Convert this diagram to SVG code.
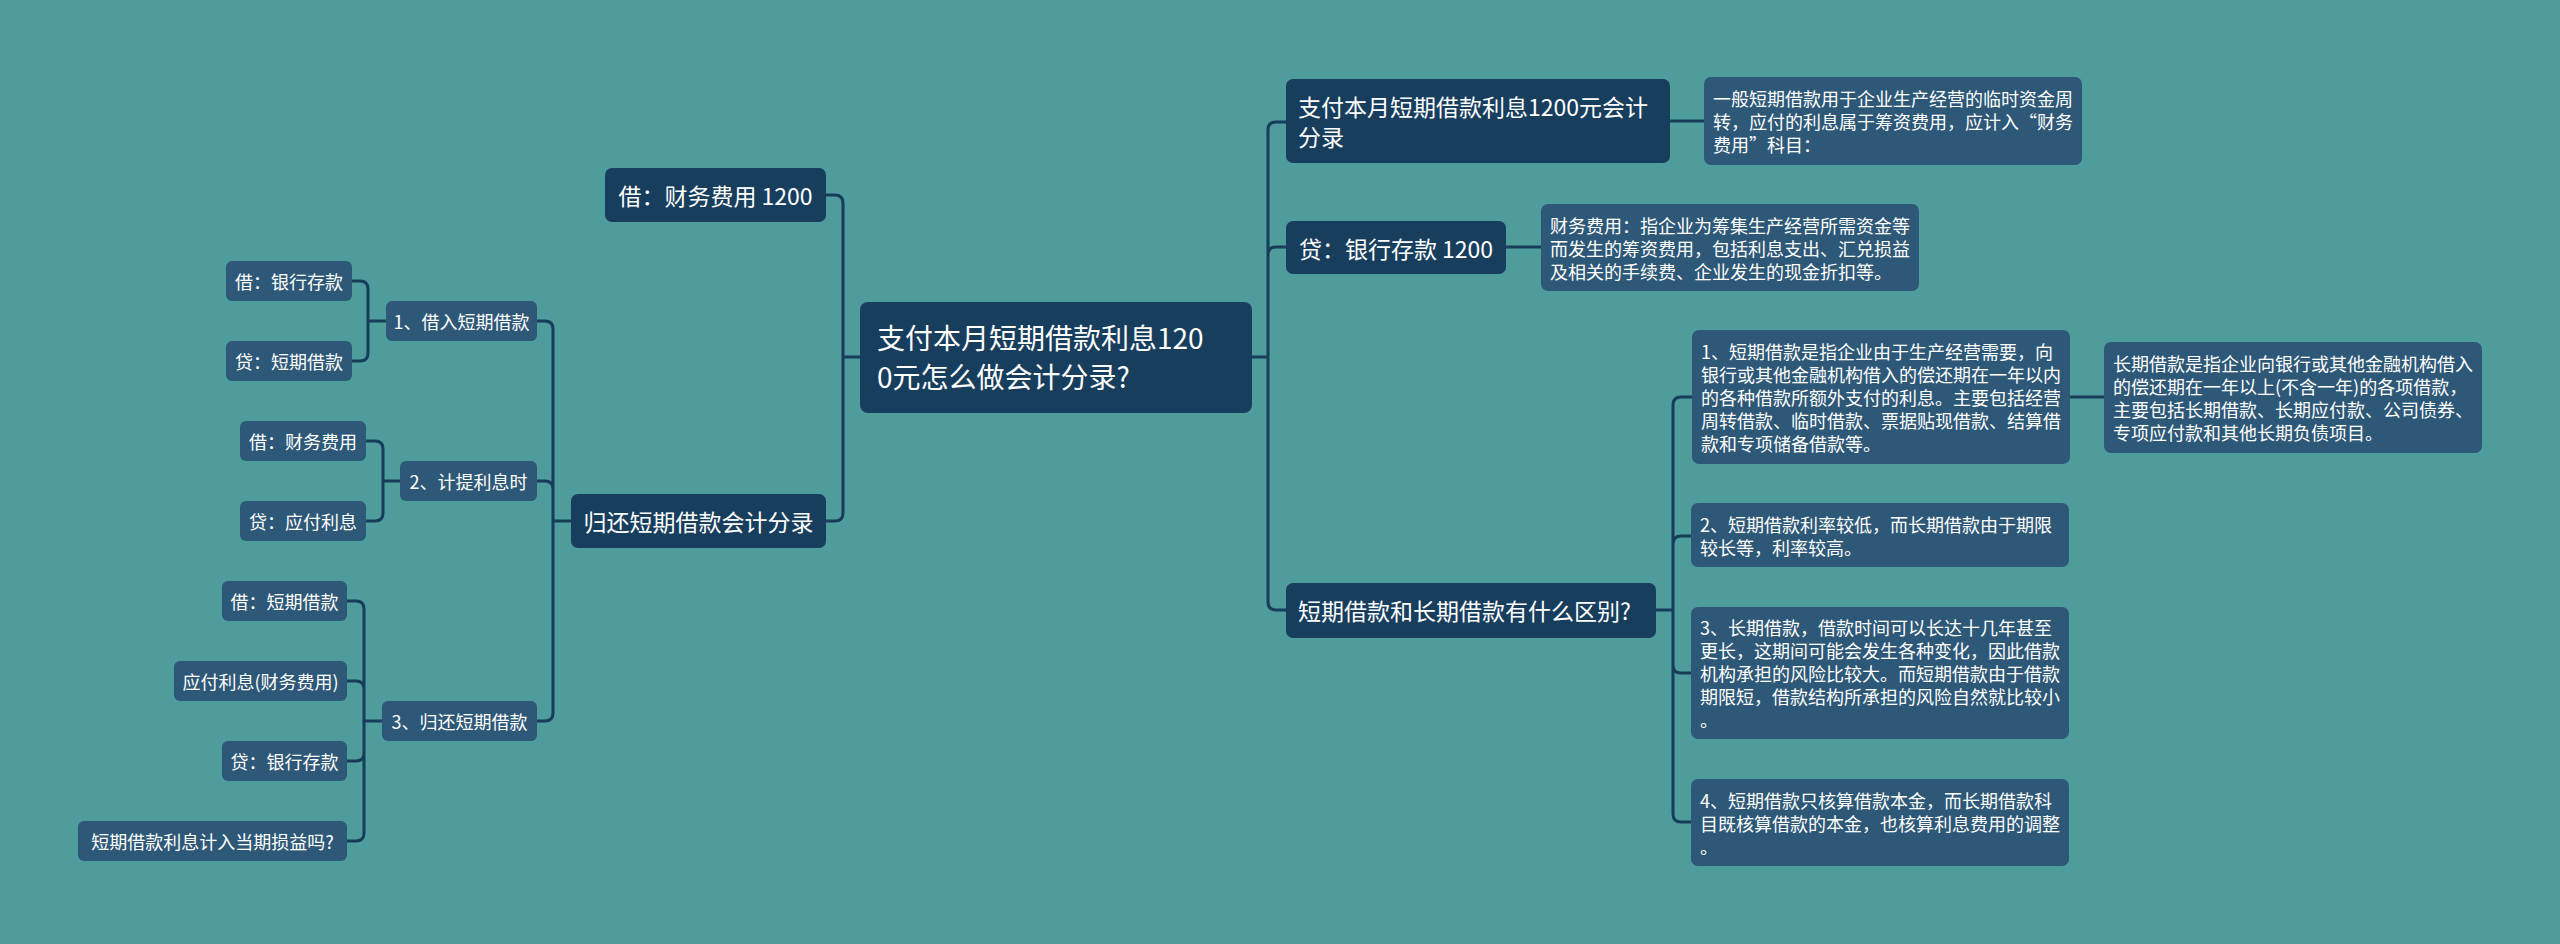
<svg xmlns="http://www.w3.org/2000/svg" width="2560" height="944" viewBox="0 0 2560 944">
<style>
.bg{fill:#4E9C9C}
.dk{fill:#183E5E}
.lf{fill:#2E5877}
.t{font-family:"Noto Sans CJK SC","Noto Sans",sans-serif;fill:#FFFFFF;dominant-baseline:central}
.t28{font-size:28px}
.t23{font-size:23px}
.t18{font-size:18px}
.mid{text-anchor:middle}
.ln{fill:none;stroke:#173D5A;stroke-width:3;stroke-linecap:round;stroke-linejoin:round}
</style>
<rect class="bg" x="0" y="0" width="2560" height="944"/>
<g id="connectors">
<path class="ln" d="M860,357 H843 M843,357 V203 Q843,195 835,195 H826 M843,357 V513 Q843,521 835,521 H826"/>
<path class="ln" d="M571,521 H553 M553,521 V329 Q553,321 545,321 H537 M553,521 V489 Q553,481 545,481 H537 M553,521 V713 Q553,721 545,721 H537"/>
<path class="ln" d="M386,321 H368 M368,321 V289 Q368,281 360,281 H352 M368,321 V353 Q368,361 360,361 H352"/>
<path class="ln" d="M400,481 H383 M383,481 V449 Q383,441 375,441 H366 M383,481 V513 Q383,521 375,521 H366"/>
<path class="ln" d="M382,721 H364 M364,721 V609 Q364,601 356,601 H347 M364,721 V689 Q364,681 356,681 H347 M364,721 V753 Q364,761 356,761 H347 M364,721 V833 Q364,841 356,841 H347"/>
<path class="ln" d="M1252,357 H1268 M1268,357 V130 Q1268,122 1276,122 H1286 M1268,357 V255 Q1268,247 1276,247 H1286 M1268,357 V602 Q1268,610 1276,610 H1286"/>
<path class="ln" d="M1670,121 H1704 M1506,247 H1541 M2070,397 H2104"/>
<path class="ln" d="M1656,610 H1673 M1673,610 V405 Q1673,397 1681,397 H1692 M1673,610 V544 Q1673,536 1681,536 H1691 M1673,610 V665 Q1673,673 1681,673 H1691 M1673,610 V814 Q1673,822 1681,822 H1691"/>
</g>
<g id="center">
<rect class="dk" x="860" y="302" width="392" height="111" rx="8"/>
<text class="t t28"><tspan x="877" y="337">支付本月短期借款利息120</tspan><tspan x="877" y="376">0元怎么做会计分录?</tspan></text>
</g>
<g id="l-jie-caiwu">
<rect class="dk" x="605" y="168" width="221" height="54" rx="7"/>
<text class="t t23 mid" x="715.5" y="195">借：财务费用 1200</text>
</g>
<g id="l-guihuan">
<rect class="dk" x="571" y="494" width="255" height="54" rx="7"/>
<text class="t t23 mid" x="698.5" y="521">归还短期借款会计分录</text>
</g>
<g id="l-1">
<rect class="lf" x="386" y="301" width="151" height="40" rx="6"/>
<text class="t t18 mid" x="461.5" y="321">1、借入短期借款</text>
</g>
<g id="l-1a">
<rect class="lf" x="226" y="261" width="126" height="40" rx="6"/>
<text class="t t18 mid" x="289" y="281">借：银行存款</text>
</g>
<g id="l-1b">
<rect class="lf" x="226" y="341" width="126" height="40" rx="6"/>
<text class="t t18 mid" x="289" y="361">贷：短期借款</text>
</g>
<g id="l-2">
<rect class="lf" x="400" y="461" width="137" height="40" rx="6"/>
<text class="t t18 mid" x="468.5" y="481">2、计提利息时</text>
</g>
<g id="l-2a">
<rect class="lf" x="240" y="421" width="126" height="40" rx="6"/>
<text class="t t18 mid" x="303" y="441">借：财务费用</text>
</g>
<g id="l-2b">
<rect class="lf" x="240" y="501" width="126" height="40" rx="6"/>
<text class="t t18 mid" x="303" y="521">贷：应付利息</text>
</g>
<g id="l-3">
<rect class="lf" x="382" y="701" width="155" height="40" rx="6"/>
<text class="t t18 mid" x="459.5" y="721">3、归还短期借款</text>
</g>
<g id="l-3a">
<rect class="lf" x="222" y="581" width="125" height="40" rx="6"/>
<text class="t t18 mid" x="284.5" y="601">借：短期借款</text>
</g>
<g id="l-3b">
<rect class="lf" x="174" y="661" width="173" height="40" rx="6"/>
<text class="t t18 mid" x="260.5" y="681">应付利息(财务费用)</text>
</g>
<g id="l-3c">
<rect class="lf" x="222" y="741" width="125" height="40" rx="6"/>
<text class="t t18 mid" x="284.5" y="761">贷：银行存款</text>
</g>
<g id="l-3d">
<rect class="lf" x="78" y="821" width="269" height="40" rx="6"/>
<text class="t t18 mid" x="212.5" y="841">短期借款利息计入当期损益吗?</text>
</g>
<g id="r-1">
<rect class="dk" x="1286" y="79" width="384" height="84" rx="7"/>
<text class="t t23"><tspan x="1298" y="106">支付本月短期借款利息1200元会计</tspan><tspan x="1298" y="136">分录</tspan></text>
</g>
<g id="r-1c">
<rect class="lf" x="1704" y="77" width="378" height="88" rx="7"/>
<text class="t t18"><tspan x="1713" y="98">一般短期借款用于企业生产经营的临时资金周</tspan><tspan x="1713" y="121">转，应付的利息属于筹资费用，应计入“财务</tspan><tspan x="1713" y="144">费用”科目：</tspan></text>
</g>
<g id="r-2">
<rect class="dk" x="1286" y="221" width="220" height="53" rx="7"/>
<text class="t t23 mid" x="1396" y="247.5">贷：银行存款 1200</text>
</g>
<g id="r-2c">
<rect class="lf" x="1541" y="204" width="378" height="87" rx="7"/>
<text class="t t18"><tspan x="1550" y="225">财务费用：指企业为筹集生产经营所需资金等</tspan><tspan x="1550" y="248">而发生的筹资费用，包括利息支出、汇兑损益</tspan><tspan x="1550" y="271">及相关的手续费、企业发生的现金折扣等。</tspan></text>
</g>
<g id="r-3">
<rect class="dk" x="1286" y="583" width="370" height="55" rx="7"/>
<text class="t t23" x="1298" y="610">短期借款和长期借款有什么区别?</text>
</g>
<g id="r-3a">
<rect class="lf" x="1692" y="330" width="378" height="134" rx="7"/>
<text class="t t18"><tspan x="1701" y="351">1、短期借款是指企业由于生产经营需要，向</tspan><tspan x="1701" y="374">银行或其他金融机构借入的偿还期在一年以内</tspan><tspan x="1701" y="397">的各种借款所额外支付的利息。主要包括经营</tspan><tspan x="1701" y="420">周转借款、临时借款、票据贴现借款、结算借</tspan><tspan x="1701" y="443">款和专项储备借款等。</tspan></text>
</g>
<g id="r-3a1">
<rect class="lf" x="2104" y="342" width="378" height="111" rx="7"/>
<text class="t t18"><tspan x="2113" y="363">长期借款是指企业向银行或其他金融机构借入</tspan><tspan x="2113" y="386">的偿还期在一年以上(不含一年)的各项借款，</tspan><tspan x="2113" y="409">主要包括长期借款、长期应付款、公司债券、</tspan><tspan x="2113" y="432">专项应付款和其他长期负债项目。</tspan></text>
</g>
<g id="r-3b">
<rect class="lf" x="1691" y="503" width="378" height="64" rx="7"/>
<text class="t t18"><tspan x="1700" y="524">2、短期借款利率较低，而长期借款由于期限</tspan><tspan x="1700" y="547">较长等，利率较高。</tspan></text>
</g>
<g id="r-3c">
<rect class="lf" x="1691" y="607" width="378" height="132" rx="7"/>
<text class="t t18"><tspan x="1700" y="627">3、长期借款，借款时间可以长达十几年甚至</tspan><tspan x="1700" y="650">更长，这期间可能会发生各种变化，因此借款</tspan><tspan x="1700" y="673">机构承担的风险比较大。而短期借款由于借款</tspan><tspan x="1700" y="696">期限短，借款结构所承担的风险自然就比较小</tspan><tspan x="1700" y="719">。</tspan></text>
</g>
<g id="r-3d">
<rect class="lf" x="1691" y="779" width="378" height="87" rx="7"/>
<text class="t t18"><tspan x="1700" y="800">4、短期借款只核算借款本金，而长期借款科</tspan><tspan x="1700" y="823">目既核算借款的本金，也核算利息费用的调整</tspan><tspan x="1700" y="846">。</tspan></text>
</g>
</svg>
